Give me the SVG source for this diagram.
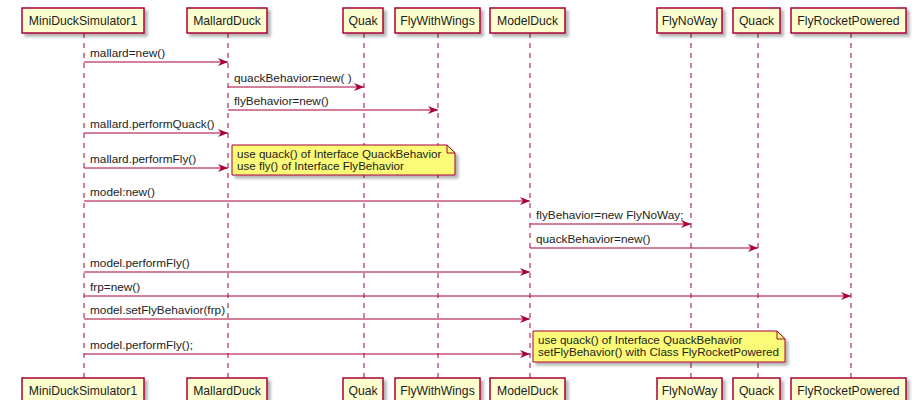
<svg xmlns="http://www.w3.org/2000/svg" width="915" height="400" viewBox="0 0 915 400">
<style>
.box{fill:#FEFECE;stroke:#A80036;stroke-width:1.5;filter:url(#sh)}
.life{stroke:#A80036;stroke-width:1;stroke-dasharray:5,5;fill:none}
.msg{stroke:#A80036;stroke-width:1;fill:none;marker-end:url(#ah)}
.note{fill:#FBFB77;stroke:#A80036;stroke-width:1;filter:url(#sh)}
.fold{fill:none;stroke:#A80036;stroke-width:1}
text{font-family:"Liberation Sans",Arial,sans-serif;font-size:11.8px;fill:#222}
.pt{text-anchor:middle;font-size:12.2px}
.nt{font-size:11.6px}
</style>
<defs>
<filter id="sh" x="-10%" y="-20%" width="130%" height="160%">
<feDropShadow dx="3" dy="3" stdDeviation="1.5" flood-color="#000" flood-opacity="0.3"/>
</filter>
<marker id="ah" markerWidth="10" markerHeight="8" refX="10" refY="4" orient="auto" markerUnits="userSpaceOnUse">
<path d="M0,0 L10,4 L0,8 L3,4 Z" fill="#A80036"/>
</marker>
</defs>
<g id="lifelines">
<line class="life" x1="84" y1="33" x2="84" y2="378"/>
<line class="life" x1="228" y1="33" x2="228" y2="378"/>
<line class="life" x1="364" y1="33" x2="364" y2="378"/>
<line class="life" x1="438" y1="33" x2="438" y2="378"/>
<line class="life" x1="530" y1="33" x2="530" y2="378"/>
<line class="life" x1="691" y1="33" x2="691" y2="378"/>
<line class="life" x1="758" y1="33" x2="758" y2="378"/>
<line class="life" x1="851" y1="33" x2="851" y2="378"/>
</g>
<g id="p-MiniDuckSimulator1">
<rect class="box" x="22" y="8" width="122" height="25"/><text class="pt" x="83" y="25">MiniDuckSimulator1</text>
<rect class="box" x="22" y="378" width="122" height="25"/><text class="pt" x="83" y="395">MiniDuckSimulator1</text>
</g>
<g id="p-MallardDuck">
<rect class="box" x="187" y="8" width="80" height="25"/><text class="pt" x="227" y="25">MallardDuck</text>
<rect class="box" x="187" y="378" width="80" height="25"/><text class="pt" x="227" y="395">MallardDuck</text>
</g>
<g id="p-Quak">
<rect class="box" x="343" y="8" width="40" height="25"/><text class="pt" x="363" y="25">Quak</text>
<rect class="box" x="343" y="378" width="40" height="25"/><text class="pt" x="363" y="395">Quak</text>
</g>
<g id="p-FlyWithWings">
<rect class="box" x="395" y="8" width="85" height="25"/><text class="pt" x="437.5" y="25">FlyWithWings</text>
<rect class="box" x="395" y="378" width="85" height="25"/><text class="pt" x="437.5" y="395">FlyWithWings</text>
</g>
<g id="p-ModelDuck">
<rect class="box" x="490" y="8" width="75" height="25"/><text class="pt" x="527.5" y="25">ModelDuck</text>
<rect class="box" x="490" y="378" width="75" height="25"/><text class="pt" x="527.5" y="395">ModelDuck</text>
</g>
<g id="p-FlyNoWay">
<rect class="box" x="657" y="8" width="65" height="25"/><text class="pt" x="689.5" y="25">FlyNoWay</text>
<rect class="box" x="657" y="378" width="65" height="25"/><text class="pt" x="689.5" y="395">FlyNoWay</text>
</g>
<g id="p-Quack">
<rect class="box" x="733" y="8" width="47" height="25"/><text class="pt" x="756.5" y="25">Quack</text>
<rect class="box" x="733" y="378" width="47" height="25"/><text class="pt" x="756.5" y="395">Quack</text>
</g>
<g id="p-FlyRocketPowered">
<rect class="box" x="791" y="8" width="115" height="25"/><text class="pt" x="848.5" y="25">FlyRocketPowered</text>
<rect class="box" x="791" y="378" width="115" height="25"/><text class="pt" x="848.5" y="395">FlyRocketPowered</text>
</g>
<g id="connectors">
<line class="msg" x1="84" y1="62" x2="228" y2="62"/><text x="90" y="57">mallard=new()</text>
<line class="msg" x1="228" y1="87" x2="364" y2="87"/><text x="234" y="82">quackBehavior=new( )</text>
<line class="msg" x1="228" y1="110" x2="438" y2="110"/><text x="234" y="105">flyBehavior=new()</text>
<line class="msg" x1="84" y1="133" x2="228" y2="133"/><text x="90" y="128">mallard.performQuack()</text>
<line class="msg" x1="84" y1="168" x2="228" y2="168"/><text x="90" y="163">mallard.performFly()</text>
<line class="msg" x1="84" y1="201" x2="530" y2="201"/><text x="90" y="196">model:new()</text>
<line class="msg" x1="530" y1="224" x2="691" y2="224"/><text x="536" y="219">flyBehavior=new FlyNoWay;</text>
<line class="msg" x1="530" y1="248" x2="758" y2="248"/><text x="536" y="243">quackBehavior=new()</text>
<line class="msg" x1="84" y1="272" x2="530" y2="272"/><text x="90" y="267">model.performFly()</text>
<line class="msg" x1="84" y1="296" x2="851" y2="296"/><text x="90" y="291">frp=new()</text>
<line class="msg" x1="84" y1="319" x2="530" y2="319"/><text x="90" y="314">model.setFlyBehavior(frp)</text>
<line class="msg" x1="84" y1="354" x2="530" y2="354"/><text x="90" y="349">model.performFly();</text>
</g>
<g id="note1">
<path class="note" d="M232,145 H447 L455,153 V175 H232 Z"/>
<path class="fold" d="M447,145 V153 H455"/>
<text class="nt" x="237" y="158">use quack() of Interface QuackBehavior</text>
<text class="nt" x="237" y="170">use fly() of Interface FlyBehavior</text>
</g>
<g id="note2">
<path class="note" d="M533,331 H777 L785,339 V362 H533 Z"/>
<path class="fold" d="M777,331 V339 H785"/>
<text class="nt" x="538" y="344">use quack() of Interface QuackBehavior</text>
<text class="nt" x="538" y="356">setFlyBehavior() with Class FlyRocketPowered</text>
</g>
</svg>
